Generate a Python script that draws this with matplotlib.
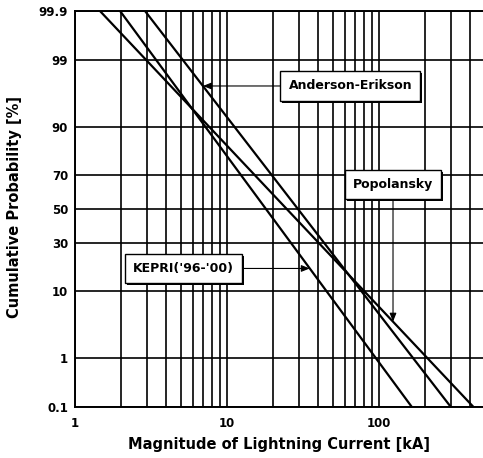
import matplotlib
matplotlib.use('Agg')
import matplotlib.pyplot as plt
import matplotlib.patheffects as pe
from matplotlib.ticker import NullFormatter, LogLocator
import numpy as np
from statistics import NormalDist

plt.rcParams['font.family'] = ['DejaVu Sans']
plt.rcParams['font.weight'] = 'bold'

# ---- data ----
prob_ticks = [0.1, 1, 10, 30, 50, 70, 90, 99, 99.9]
prob_labels = ['0.1', '1', '10', '30', '50', '70', '90', '99', '99.9']
x_major = [1, 10, 100]
x_major_labels = ['1', '10', '100']

end_probs = [99.9, 0.1]          # probability at each end of the straight lines [%]
anderson_kA = [2.89, 298.0]      # Anderson-Erikson current at 99.9 % and 0.1 %
popolansky_kA = [1.46, 420.0]    # Popolansky
kepri_kA = [1.98, 165.0]         # KEPRI('96-'00)


def z(p):
    return NormalDist().inv_cdf(p / 100.0)


def z_on_line(kA, probs, x):
    lx = np.log10(kA)
    zz = [z(p) for p in probs]
    return zz[0] + (np.log10(x) - lx[0]) * (zz[1] - zz[0]) / (lx[1] - lx[0])


def x_on_line(kA, probs, zval):
    lx = np.log10(kA)
    zz = [z(p) for p in probs]
    return 10 ** (lx[0] + (zval - zz[0]) * (lx[1] - lx[0]) / (zz[1] - zz[0]))


fig = plt.figure(figsize=(4.83, 4.58), dpi=100)
ax = fig.add_axes([75 / 483, 51 / 458, 410 / 483, 396 / 458])
ax.set_xscale('log')
ax.set_xlim(1, 500)
zmax = z(99.9)
ax.set_ylim(-zmax, zmax)

ax.set_xticks(x_major)
ax.set_xticklabels(x_major_labels)
ax.xaxis.set_minor_locator(LogLocator(base=10, subs=np.arange(2, 10)))
ax.xaxis.set_minor_formatter(NullFormatter())
ax.set_yticks([z(p) for p in prob_ticks])
ax.set_yticklabels(prob_labels)

ax.grid(which='both', axis='x', color='black', lw=1.2)
ax.grid(which='major', axis='y', color='black', lw=1.2)
ax.set_axisbelow(True)
ax.tick_params(which='both', length=0, labelsize=8.5)
ax.tick_params(axis='x', pad=7)
ax.tick_params(axis='y', pad=5)
for sp in ax.spines.values():
    sp.set_linewidth(1.4)
    sp.set_color('black')

for kA in (anderson_kA, popolansky_kA, kepri_kA):
    ax.plot(kA, [z(p) for p in end_probs], color='black', lw=1.6,
            solid_capstyle='butt')

arrow = dict(arrowstyle='-|>,head_length=0.5,head_width=0.2', color='black',
             lw=0.8, shrinkA=0, shrinkB=0, mutation_scale=10)
box = dict(boxstyle='square,pad=0.65', fc='white', ec='black', lw=1.0)
shadow = [pe.SimplePatchShadow(offset=(1.5, -1.5), shadow_rgbFace='black', alpha=1.0),
          pe.Normal()]

anns = []
# Anderson-Erikson
zA = 1.92
anns.append(ax.annotate('Anderson-Erikson', xy=(x_on_line(anderson_kA, end_probs, zA), zA),
                        xytext=(64.9, zA), ha='center', va='center', fontsize=9,
                        fontweight='bold', bbox=box, arrowprops=arrow))
# Popolansky
xP = 124.0
anns.append(ax.annotate('Popolansky', xy=(xP, z_on_line(popolansky_kA, end_probs, xP)),
                        xytext=(xP, 0.382), ha='center', va='center', fontsize=9,
                        fontweight='bold', bbox=box, arrowprops=arrow))
# KEPRI
zK = -0.928
anns.append(ax.annotate("KEPRI('96-'00)", xy=(x_on_line(kepri_kA, end_probs, zK), zK),
                        xytext=(5.18, zK), ha='center', va='center', fontsize=9,
                        fontweight='bold', bbox=box, arrowprops=arrow))
for a in anns:
    a.get_bbox_patch().set_path_effects(shadow)

fig.text(279 / 483, 1 - 445 / 458, 'Magnitude of Lightning Current [kA]',
         ha='center', va='center', fontsize=10.5, fontweight='bold')
fig.text(15 / 483, 1 - 207 / 458, 'Cumulative Probability [%]', rotation=90,
         ha='center', va='center', fontsize=10.5, fontweight='bold')

fig.savefig('out.png', dpi=100)
